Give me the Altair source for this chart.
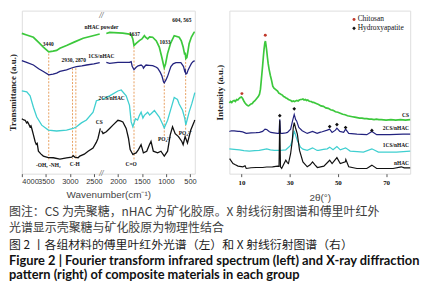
import altair as alt
import pandas as pd

# ---------------- FTIR (left panel): (wavenumber cm-1, transmittance a.u.) ----------------
ftir_nhac = [(4000,143.7),(3900,142),(3759,139.7),(3650,134.5),(3552,129.7),(3440,124.7),(3350,125.5),
             (3276,126.3),(3208,128.5),(3069,131.3),(2900,135),(2724,138.7),(2519,141.3),(2379,143),
             (2241,143.5),(2173,144.7),(1900,144),(1759,143),(1724,142.5),(1690,138),(1665,131.3),
             (1620,133.5),(1553,136.3),(1500,138),(1449,141.3),(1420,139.5),(1380,138),(1340,140),
             (1277,139.7),(1200,136),(1139,129.7),(1090,120),(1050,111.3),(1035,108.5),(1010,112),
             (967,123),(900,134),(828,141.3),(725,139.7),(680,136),(642,129.7),(610,122),(600,124),
             (586,118),(565,119),(540,126),(518,133),(470,140),(415,144.7),(400,145)]
ftir_1cs = [(4000,115.7),(3900,114),(3759,111.3),(3650,107.5),(3552,104.7),(3440,101.3),(3350,102),
            (3276,103),(3208,104.7),(3069,106.3),(2950,108.5),(2862,109.7),(2750,110.5),(2655,111.3),
            (2500,112.5),(2379,113.7),(2241,114),(2173,113),(2000,114),(1850,114),(1759,114),(1724,114.7),
            (1703,110),(1665,106.5),(1620,109),(1580,110.5),(1517,111.3),(1483,110),(1469,108),(1440,110),
            (1414,111.3),(1350,111),(1276,110.7),(1200,109),(1172,108),(1120,104),(1083,100),(1050,94),
            (1035,93),(1000,96),(966,99.7),(930,105),(897,109.7),(850,112.5),(793,113.7),(690,113.7),
            (650,111),(634,109.7),(610,105),(600,106),(586,102),(565,102.5),(538,106.3),(500,110),
            (469,113),(430,115),(400,115.7)]
ftir_2cs = [(4000,84.7),(3897,83.7),(3828,79.7),(3759,68),(3690,58),(3586,49.7),(3448,44.7),(3276,43.7),
            (3069,44.7),(2932,46.3),(2862,48),(2760,52),(2655,55),(2517,63),(2448,74.7),(2380,75.5),
            (2310,76.3),(2173,79.7),(2000,84.7),(1931,85.7),(1828,79.7),(1759,70),(1724,53),(1690,48),
            (1635,56.3),(1590,55),(1552,59.7),(1517,63),(1480,57),(1450,59.7),(1380,63),(1340,60),
            (1310,61.3),(1240,64.7),(1200,62),(1139,58),(1080,52),(1035,47),(966,54.7),(897,66.3),
            (828,78),(760,76),(725,71.3),(655,65),(610,57),(586,50),(560,55),(518,63),(460,72),
            (415,80),(400,83)]
ftir_cs = [(4000,56.3),(3960,55),(3931,54.7),(3900,52),(3880,53),(3862,51.3),(3830,48),(3810,49),
           (3793,46.3),(3760,40),(3724,33),(3700,30),(3680,31),(3655,23),(3600,20),(3552,18),(3450,16.5),
           (3345,16.3),(3208,15),(3069,16.3),(2960,17),(2931,18.5),(2900,17),(2828,16.3),(2794,18),
           (2700,20),(2621,23),(2518,26.3),(2450,32),(2414,36.3),(2366,46.3),(2340,44),(2310,41),
           (2242,43),(2173,46.3),(2104,49.7),(2000,54.7),(1950,54),(1897,53),(1828,46.3),(1780,36.3),
           (1745,24.7),(1690,19.7),(1621,21.3),(1573,24.7),(1518,29.7),(1470,21.3),(1400,23),
           (1345,29.7),(1311,33),(1263,23),(1173,21.3),(1104,23),(1035,18),(966,23),(911,39.7),
           (863,48),(808,41),(739,38),(670,33),(642,29.7),(601,38),(552,31.3),(483,44.7),(415,53),(400,55)]

ftir_series = ["nHAC powder", "1CS/nHAC", "2CS/nHAC", "CS"]
ftir_colors = ["#3cc83c", "#23237f", "#3fcfd0", "#111111"]

# dashed guide lines: (wavenumber, top, bottom)
ftir_guides = [(3440,123,13),(2945,108,15),(2876,108,15),(1665,130,13),(1035,108,38),(590,118,44)]
# annotations: (text, wavenumber, value)
ftir_labels = [("nHAC powder",2345,150),("3440",3450,133),("1637",1656,143),("1033",1021,134.7),
               ("604, 565",669,157),("2930, 2870",2918,116),("1CS/nHAC",2345,120),("2CS/nHAC",2130,77),
               ("CS",2390,53),("-OH, -NH\u2082",3450,9),("C-H",2897,9.7),("C=O",1724,9.7),
               ("PO\u2084\u00b3\u207b",1035,35),("PO\u2084\u00b3\u207b",600,42)]
ftir_ticks = [4000, 3500, 3000, 2500, 2000, 1500, 1000, 500]
ftir_break = 2345

# ---------------- XRD (right panel): (2theta deg, intensity a.u.) ----------------
xrd_cs = [(5.0,72),(5.5,73.5),(6.0,72.5),(6.5,74),(7.0,74.5),(7.5,73.5),(8.0,75.5),(8.5,75),(9.0,76.5),
          (9.5,77.5),(10.0,78),(10.5,76.5),(11.0,74),(11.5,72),(12.0,70.5),(12.5,69.5),(13.0,69),(13.5,70),
          (14.0,71),(14.5,71.5),(15.0,73),(15.5,74),(16.0,75.5),(16.5,77),(17.0,78.5),(17.5,81),(17.9,86),
          (18.2,94),(18.5,102),(18.8,110),(19.1,119),(19.4,127),(19.7,133),(19.95,135),(20.2,131),
          (20.5,125),(20.8,118),(21.1,112),(21.5,106),(22.0,100),(22.5,95),(23.0,89),(23.5,87),(24,86),
          (24.5,85),(25,84),(25.5,82),(26,81.5),(26.5,80.5),(27,80),(27.5,78.5),(28,78),(28.5,77),
          (29,76.5),(29.5,75.5),(30,75),(30.5,74.5),(31,73.5),(31.5,74),(32,73.5),(32.5,74),(33,74.5),
          (33.5,74),(34,75),(34.5,75.5),(35,75.5),(35.5,76),(36,75),(36.5,75.5),(37,74.5),(37.5,75),
          (38,74),(38.5,73.5),(39,73.5),(39.5,72.5),(40,72.5),(41,71.5),(42,70.5),(43,69),(44,68.5),
          (45,67),(46,66.5),(47,65),(48,64.5),(49,63),(50,62.5),(51,61.5),(52,60.5),(53,60),(54,59),
          (55,58.5),(56,58),(57,57.5),(58,57),(59,56.5),(60,56.5),(61,56),(62,56),(63,55.5),(64,55.5),
          (65,55),(66,55.5),(67,55),(68,55),(70,54.5),(72,55),(74,54.5),(76,55),(78,54.5),(80,55)]
xrd_2cs = [(5.0,43),(5.8,43.7),(7,43.5),(8.6,43),(9.2,43),(10.5,42.5),(12,41),(14,41.5),(16.1,41.7),
           (17.5,42),(18.8,43),(19.8,45.3),(20.5,45),(21.5,43),(22.2,42),(23.5,41.5),(25.0,41),(25.6,41),
           (25.9,55.3),(26.2,41),(27.0,41),(28.4,41.5),(29.1,42),(30.4,45.3),(31.2,53.7),(31.9,60.3),
           (32.5,55),(32.9,53.7),(33.8,47),(35.2,43.7),(37.3,41),(39.5,43),(41.4,41),(42.5,42),(43.5,42.7),
           (45.6,44.3),(46.6,45.3),(47.6,42),(49.0,44.3),(49.6,46.3),(50.8,43),(52.4,42),(53.2,45.3),
           (54.5,41),(57.9,40.3),(62.0,39.7),(64.1,43),(66.1,39.7),(71.5,39.7),(77.0,40.3),(80,40.3)]
xrd_1cs = [(5.0,25.3),(7,24.8),(9.2,24.3),(11,23.5),(13.3,23),(15.5,23.5),(17.4,23.7),(19,24.5),
           (20.5,25.3),(22,24.2),(23.6,23.7),(25,23.8),(27,24),(28.4,24.3),(30.4,28.7),(31.2,35),
           (31.9,43.7),(32.5,39),(33.2,33.7),(34.5,27),(35.5,25),(37.3,23.7),(39.5,26.3),(41.4,23.7),
           (42,23.7),(44,24.8),(45.6,25.3),(46.6,27),(48.0,24.3),(49.6,27.7),(51.0,24.3),(53.2,26.3),
           (55.1,23),(58,22.5),(60.6,22),(64.1,25.3),(66.8,22),(70,22),(74.3,22),(80,23)]
xrd_nhac = [(5.1,15.3),(6.5,10.3),(7.5,9),(8.6,7.7),(10.6,7),(11.5,8),(12.0,5.3),(14,6),(16.1,6.3),
            (18.8,6.3),(20.5,6.8),(22.9,7),(25.0,7.7),(25.6,7.5),(25.9,54),(26.2,7),(26.7,5.3),(27.7,10.3),
            (28.4,13.7),(29.1,11),(29.5,10.3),(30.4,20.3),(31.1,33.7),(31.5,47),(31.9,52),(32.4,47),
            (33.2,40.3),(34.1,23.7),(35.5,12),(37.3,7),(38.5,9),(39.5,12),(40.5,9),(41.5,6.3),(44.2,7.7),
            (46.6,13.7),(47.6,10.3),(49.6,16.3),(51.0,10.3),(53.1,12),(53.3,14.3),(54.5,7),(57.9,5.3),
            (62,5.3),(64.1,8.7),(66.1,5.3),(72.9,5.3),(76.3,7),(77.5,6),(80,6)]

xrd_series = ["CS", "2CS/nHAC", "1CS/nHAC", "nHAC"]
xrd_colors = ["#3cc83c", "#23237f", "#3fcfd0", "#111111"]
xrd_label_y = [60, 46, 29, 11]
ha_peaks = [(25.9,59),(31.9,66),(46.6,48),(49.6,50),(53.2,47),(64.1,44)]
chitosan_peaks = [(10.2,81.5),(19.9,141)]
legend_items = [("Chitosan",157),("Hydroxyapatite",148)]
xrd_ticks = [10, 20, 30, 40, 50, 60, 70, 80]

caption_note = ["图注：CS 为壳聚糖，nHAC 为矿化胶原。X 射线衍射图谱和傅里叶红外",
                "光谱显示壳聚糖与矿化胶原为物理性结合"]
caption_title_cn = "图 2 丨各组材料的傅里叶红外光谱（左）和 X 射线衍射图谱（右）"
caption_title_en = ["Figure 2  |  Fourier transform infrared spectrum (left) and X-ray diffraction",
                    "pattern (right) of composite materials in each group"]

# ---------------- build tables ----------------
def table(pairs, xname, name):
    return pd.DataFrame({xname: [p[0] for p in pairs], "y": [p[1] for p in pairs], "series": name})

ftir_df = pd.concat([table(s, "wn", n) for s, n in
                     zip([ftir_nhac, ftir_1cs, ftir_2cs, ftir_cs], ftir_series)], ignore_index=True)
ftir_df["seg"] = (ftir_df["wn"] > ftir_break).astype(int)
guide_df = pd.DataFrame(ftir_guides, columns=["wn", "y", "y2"])
flab_df = pd.DataFrame(ftir_labels, columns=["txt", "wn", "y"])
brk_bottom = pd.DataFrame({"wn": [ftir_break], "y": [0]})
brk_top = pd.DataFrame({"wn": [ftir_break], "y": [167]})

xrd_df = pd.concat([table(s, "t", n) for s, n in
                    zip([xrd_cs, xrd_2cs, xrd_1cs, xrd_nhac], xrd_series)], ignore_index=True)
xlab_df = pd.DataFrame({"txt": xrd_series, "t": 79.5, "y": xrd_label_y})
ha_df = pd.DataFrame(ha_peaks, columns=["t", "y"])
ch_df = pd.DataFrame(chitosan_peaks, columns=["t", "y"])
leg_df = pd.DataFrame(legend_items, columns=["txt", "y"])
one = pd.DataFrame({"k": [0]})

# ---------------- left panel ----------------
XL = alt.X("wn:Q", scale=alt.Scale(domain=[400, 4000], reverse=True, nice=False, zero=False),
           axis=alt.Axis(values=ftir_ticks, format="d", title="Wavenumber(cm\u207b\u00b9)",
                         labelFont="Liberation Sans", labelFontSize=7.5, labelColor="#333",
                         labelOverlap=False, labelBound=False,
                         tickSize=3, tickColor="#555", domain=False, grid=False, labelPadding=1,
                         titleFont="Liberation Sans", titleFontSize=10, titleFontWeight="normal",
                         titleColor="#444", titlePadding=5))
YL = alt.Y("y:Q", scale=alt.Scale(domain=[0, 167], nice=False, zero=False),
           axis=alt.Axis(title="Transmittance (a.u.)", labels=False, ticks=False, domain=False, grid=False,
                         titleFont="Liberation Serif", titleFontSize=9, titleFontWeight="bold",
                         titleColor="#222", titlePadding=4))

guides = alt.Chart(guide_df).mark_rule(color="#e8a060", strokeDash=[2, 1.5], strokeWidth=1).encode(
    x=XL, y=YL, y2="y2:Q")

left_layers = [guides]
for name, col in zip(ftir_series, ftir_colors):
    left_layers.append(
        alt.Chart(ftir_df[ftir_df["series"] == name]).mark_line(
            color=col, strokeWidth=1.7 if name == "nHAC powder" else 1.3).encode(
            x=XL, y=YL, detail="seg:N", order="wn:Q"))
left_layers.append(alt.Chart(flab_df).mark_text(font="Liberation Serif", fontSize=5.5, fontWeight="bold",
                                                color="#111").encode(x=XL, y=YL, text="txt:N"))
left_layers.append(alt.Chart(brk_bottom).mark_text(text="//", font="Liberation Serif", fontSize=8,
                                                   fontStyle="italic", color="#333", baseline="middle").encode(
    x=XL, y=YL))
left_layers.append(alt.Chart(brk_top).mark_text(text="//", font="Liberation Serif", fontSize=8,
                                                fontStyle="italic", color="#333", baseline="top", dy=1).encode(
    x=XL, y=YL))

# caption lines (placed under the two panels)
cap = [(caption_note[0], 204, "Noto Sans CJK SC", 12.1, "normal", "#3c3c3c"),
       (caption_note[1], 220, "Noto Sans CJK SC", 12.1, "normal", "#3c3c3c"),
       (caption_title_cn, 237, "Noto Sans CJK SC", 12, "normal", "#1a1a1a"),
       (caption_title_en[0], 253, "Lato", 13, "bold", "#111"),
       (caption_title_en[1], 268, "Lato", 13, "bold", "#111")]
for txt, yy, font, fs, fw, colr in cap:
    left_layers.append(alt.Chart(one).mark_text(text=txt, align="left", baseline="middle", font=font,
                                                fontSize=fs, fontWeight=fw, color=colr).encode(
        x=alt.value(-13), y=alt.value(yy)))

left = alt.layer(*left_layers).properties(width=175, height=165)

# ---------------- right panel ----------------
XR = alt.X("t:Q", scale=alt.Scale(domain=[5, 80], nice=False, zero=False),
           axis=alt.Axis(values=xrd_ticks, title="2\u03b8(\u00b0)", labelFont="Liberation Serif",
                         labelFontSize=7, labelFontWeight="bold", labelColor="#111",
                         labelOverlap=False, labelBound=False,
                         tickSize=3, tickColor="#555", domain=False, grid=False, labelPadding=2,
                         titleFont="Liberation Sans", titleFontSize=10, titleFontWeight="normal",
                         titleColor="#444", titlePadding=7))
YR = alt.Y("y:Q", scale=alt.Scale(domain=[0, 166], nice=False, zero=False),
           axis=alt.Axis(title="Intensity (a.u.)", labels=False, ticks=False, domain=False, grid=False,
                         titleFont="Liberation Serif", titleFontSize=9, titleFontWeight="bold",
                         titleColor="#222", titlePadding=5))

right_layers = []
for name, col in zip(xrd_series, xrd_colors):
    right_layers.append(
        alt.Chart(xrd_df[xrd_df["series"] == name]).mark_line(
            color=col, strokeWidth=1.7 if name == "CS" else 1.2).encode(x=XR, y=YR, order="t:Q"))
right_layers.append(alt.Chart(ha_df).mark_point(shape="diamond", filled=True, size=14, color="#111",
                                                opacity=1).encode(x=XR, y=YR))
right_layers.append(alt.Chart(ch_df).mark_point(shape="circle", filled=True, size=9, color="#c0392b",
                                                opacity=1).encode(x=XR, y=YR))
right_layers.append(alt.Chart(xlab_df).mark_text(font="Liberation Serif", fontSize=5.5, fontWeight="bold",
                                                 align="right", color="#111").encode(x=XR, y=YR, text="txt:N"))
right_layers.append(alt.Chart(leg_df).mark_point(filled=True, opacity=1).encode(
    x=alt.datum(56.7), y=YR,
    shape=alt.Shape("txt:N", scale=alt.Scale(domain=["Chitosan", "Hydroxyapatite"],
                                             range=["circle", "diamond"]), legend=None),
    color=alt.Color("txt:N", scale=alt.Scale(domain=["Chitosan", "Hydroxyapatite"],
                                             range=["#c0392b", "#111111"]), legend=None),
    size=alt.Size("txt:N", scale=alt.Scale(domain=["Chitosan", "Hydroxyapatite"], range=[9, 14]),
                  legend=None)))
right_layers.append(alt.Chart(leg_df).mark_text(font="Liberation Serif", fontSize=7.5, align="left",
                                                color="#111").encode(x=alt.datum(58.2), y=YR, text="txt:N"))

right = alt.layer(*right_layers).properties(width=183, height=165)

chart = alt.hconcat(left, right, spacing=35, bounds="flush").properties(padding=0).configure_view(
    stroke="#555", strokeWidth=1).configure(background="white")

chart.save("out.html", embed_options={"renderer": "svg", "actions": False})
